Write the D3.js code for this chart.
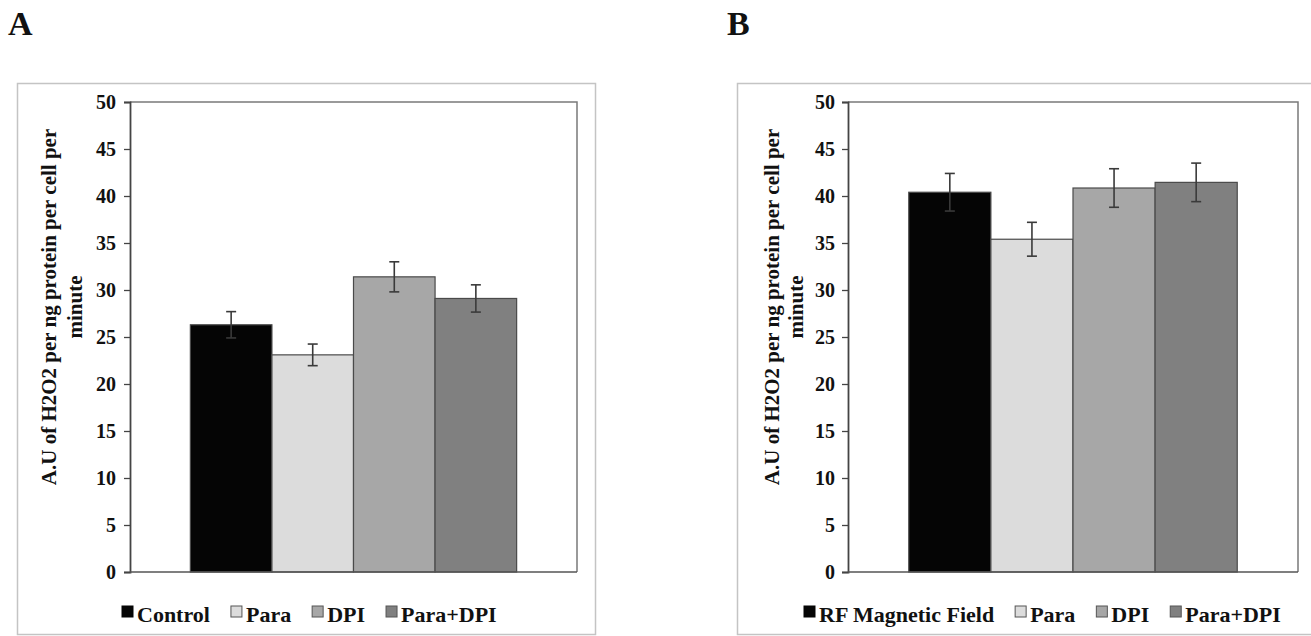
<!DOCTYPE html>
<html>
<head>
<meta charset="utf-8">
<script src="https://cdn.jsdelivr.net/npm/d3@7"></script>
<style>
  html, body { margin: 0; padding: 0; background: #fff; }
  svg text { font-family: "Liberation Serif", "Times New Roman", serif; font-weight: bold; fill: #111; }
</style>
</head>
<body>
<svg id="chart" width="1311" height="636"></svg>
<script>
// data
var categoriesA = ["Control", "Para", "DPI", "Para+DPI"];
var valuesA = [26.3, 23.1, 31.4, 29.1];
var errorsA = [1.4, 1.15, 1.6, 1.45];

var categoriesB = ["RF Magnetic Field", "Para", "DPI", "Para+DPI"];
var valuesB = [40.4, 35.4, 40.85, 41.45];
var errorsB = [2.0, 1.8, 2.05, 2.05];

var yTicks = [0, 5, 10, 15, 20, 25, 30, 35, 40, 45, 50];
var fills = ["#050505", "#dcdcdc", "#a7a7a7", "#808080"];
var yLabelLines = ["A.U of H2O2 per ng protein per cell per", "minute"];

var svg = d3.select("#chart");

function panel(opt) {
  var g = svg.append("g");

  // outer frame
  g.append("rect")
    .attr("x", opt.box[0] + 0.5).attr("y", opt.box[1] + 0.5)
    .attr("width", opt.box[2]).attr("height", opt.box[3])
    .attr("fill", "none").attr("stroke", "#c4c4c4").attr("stroke-width", 1.5);

  // panel letter
  svg.append("text")
    .attr("x", opt.letterX).attr("y", 35)
    .style("font-size", "34px")
    .text(opt.letter);

  var x = d3.scaleBand()
    .domain(opt.categories)
    .range([opt.left, opt.right])
    .paddingInner(0)
    .paddingOuter(0.74);

  var y = d3.scaleLinear()
    .domain([0, 50])
    .range([572, 102]);

  // plot frame (top / right)
  g.append("path")
    .attr("d", "M" + opt.left + "," + y(50) + "H" + opt.right + "V" + y(0))
    .attr("fill", "none").attr("stroke", "#7a7a7a").attr("stroke-width", 1.5);

  // bars
  g.selectAll(".bar")
    .data(opt.values)
    .enter().append("rect")
    .attr("class", "bar")
    .attr("x", function(d, i) { return x(opt.categories[i]); })
    .attr("y", function(d) { return y(d); })
    .attr("width", x.bandwidth())
    .attr("height", function(d) { return y(0) - y(d); })
    .attr("fill", function(d, i) { return fills[i]; })
    .attr("stroke", "#4a4a4a")
    .attr("stroke-width", 1.2);

  // error bars
  var err = g.selectAll(".err")
    .data(opt.values)
    .enter().append("g")
    .attr("class", "err")
    .attr("stroke", "#3a3a3a")
    .attr("stroke-width", 1.6);

  err.append("line")
    .attr("x1", function(d, i) { return x(opt.categories[i]) + x.bandwidth() / 2; })
    .attr("x2", function(d, i) { return x(opt.categories[i]) + x.bandwidth() / 2; })
    .attr("y1", function(d, i) { return y(d + opt.errors[i]); })
    .attr("y2", function(d, i) { return y(d - opt.errors[i]); });

  [1, -1].forEach(function(s) {
    err.append("line")
      .attr("x1", function(d, i) { return x(opt.categories[i]) + x.bandwidth() / 2 - 5; })
      .attr("x2", function(d, i) { return x(opt.categories[i]) + x.bandwidth() / 2 + 5; })
      .attr("y1", function(d, i) { return y(d + s * opt.errors[i]); })
      .attr("y2", function(d, i) { return y(d + s * opt.errors[i]); });
  });

  // y axis
  var yAxis = g.append("g")
    .attr("transform", "translate(" + opt.left + ",0)")
    .call(d3.axisLeft(y).tickValues(yTicks).tickSize(6).tickPadding(opt.tickPad));
  yAxis.select(".domain").attr("stroke", "#444").attr("stroke-width", 1.8);
  yAxis.selectAll(".tick line").attr("stroke", "#444").attr("stroke-width", 1.3);
  yAxis.selectAll(".tick text")
    .style("font-size", "20px")
    .style("font-family", "'Liberation Serif', 'Times New Roman', serif")
    .style("font-weight", "bold")
    .attr("fill", "#111");

  // x axis baseline
  g.append("line")
    .attr("x1", opt.left).attr("x2", opt.right)
    .attr("y1", y(0)).attr("y2", y(0))
    .attr("stroke", "#555").attr("stroke-width", 1.5);

  // y axis title (two lines, rotated)
  g.selectAll(".ytitle")
    .data(yLabelLines)
    .enter().append("text")
    .attr("class", "ytitle")
    .attr("text-anchor", "middle")
    .attr("transform", function(d, i) {
      return "translate(" + (opt.left + opt.titleOff[i]) + ",307) rotate(-90)";
    })
    .style("font-size", "21px")
    .text(function(d) { return d; });

  // legend
  var lx = opt.legendX;
  opt.categories.forEach(function(c, i) {
    g.append("rect")
      .attr("x", lx).attr("y", 606)
      .attr("width", 11).attr("height", 11)
      .attr("fill", fills[i])
      .attr("stroke", i === 0 ? "#050505" : "#555")
      .attr("stroke-width", 1);
    var t = g.append("text")
      .attr("x", lx + 15).attr("y", 622)
      .style("font-size", "22px")
      .text(c);
    lx += 15 + t.node().getComputedTextLength() + 21;
  });
}

panel({
  letter: "A", letterX: 8,
  box: [17, 83, 578, 551],
  left: 130, right: 577,
  categories: categoriesA, values: valuesA, errors: errorsA,
  tickPad: 8, titleOff: [-74, -48],
  legendX: 122
});

panel({
  letter: "B", letterX: 727,
  box: [737, 83, 600, 551],
  left: 848, right: 1298,
  categories: categoriesB, values: valuesB, errors: errorsB,
  tickPad: 7, titleOff: [-69, -45],
  legendX: 804
});
</script>
</body>
</html>
